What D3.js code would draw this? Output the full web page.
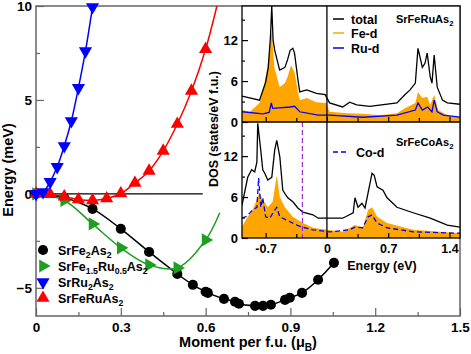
<!DOCTYPE html>
<html>
<head>
<meta charset="utf-8">
<script src="https://cdn.jsdelivr.net/npm/d3@7"></script>
<style>
  body { margin: 0; background: #fff; }
  svg { display: block; font-family: 'Liberation Sans', Arial, sans-serif; font-weight: bold; }
</style>
</head>
<body>
<div id="chart"></div>
<script>
// ---- main panel: energy (meV) vs moment per f.u.
const fe2Moment = [0, 0.1, 0.2, 0.3, 0.4, 0.5, 0.555, 0.6, 0.608, 0.665, 0.704, 0.718, 0.775, 0.803, 0.831, 0.881, 0.898, 0.941, 0.998, 1.054]
const fe2Energy = [0, -0.21, -0.8, -1.86, -3.09, -4.26, -4.84, -5.21, -5.27, -5.59, -5.74, -5.85, -5.96, -5.96, -5.9, -5.64, -5.53, -5.27, -4.57, -3.67]

const fe15Moment = [0, 0.1, 0.2, 0.3, 0.4, 0.5, 0.6]
const fe15Energy = [0, -0.35, -1.6, -2.87, -3.78, -3.94, -2.45]
const fe15Tail = [[0.65, -1.0]]

const ru2Moment = [0, 0.025, 0.05, 0.075, 0.1, 0.125, 0.15, 0.175, 0.2]
const ru2Energy = [0, 0.1, 0.64, 1.44, 2.55, 3.88, 5.64, 7.6, 9.95]

const feRuMoment = [0, 0.05, 0.1, 0.15, 0.2, 0.25, 0.3, 0.35, 0.4, 0.45, 0.5, 0.55, 0.6]
const feRuEnergy = [0, -0.02, -0.15, -0.3, -0.35, -0.25, 0.02, 0.58, 1.22, 2.29, 3.72, 5.48, 7.7]
const feRuTail = [[0.64, 10]]

const momentTicks = [0, 0.3, 0.6, 0.9, 1.2, 1.5]
const momentTickLabels = ['0', '0.3', '0.6', '0.9', '1.2', '1.5']
const momentMinor = [0.15, 0.45, 0.75, 1.05, 1.35]
const energyTicks = [-5, 0, 5, 10]
const energyMinor = [-2.5, 2.5, 7.5]

// ---- inset: DOS (states/eV f.u.) vs energy (eV)
const feRuTotal = [[-0.97, 3.8], [-0.77, 3.2], [-0.73, 4.7], [-0.7, 5.8], [-0.67, 8.0], [-0.645, 12.5], [-0.63, 17], [-0.615, 12], [-0.596, 10.5], [-0.54, 7.6], [-0.48, 8.0], [-0.45, 9.1], [-0.42, 10.5], [-0.39, 10.8], [-0.37, 10.1], [-0.33, 6.1], [-0.31, 4.4], [-0.23, 4.7], [-0.12, 4.2], [-0.02, 4.0], [0.03, 2.8], [0.18, 2.2], [0.26, 2.9], [0.34, 2.5], [0.49, 2.3], [0.8, 2.8], [0.89, 4.0], [0.95, 4.7], [1.01, 5.7], [1.04, 10.8], [1.09, 8.0], [1.12, 8.6], [1.145, 10.1], [1.18, 6.6], [1.2, 5.7], [1.225, 9.8], [1.26, 5.1], [1.32, 3.2], [1.375, 2.8], [1.52, 2.6]]
const feRuFeD = [[-0.97, 1.75], [-0.88, 1.5], [-0.77, 2.8], [-0.73, 4.7], [-0.68, 8.0], [-0.645, 12], [-0.63, 13.2], [-0.6, 8.0], [-0.54, 5.1], [-0.48, 5.7], [-0.45, 6.6], [-0.41, 8.3], [-0.37, 7.3], [-0.33, 4.4], [-0.31, 3.2], [-0.23, 3.5], [-0.12, 2.9], [-0.01, 2.8], [0.03, 1.5], [0.23, 1.3], [0.41, 1.2], [0.61, 1.0], [0.8, 1.3], [0.89, 2.0], [1.01, 2.8], [1.04, 4.4], [1.09, 3.5], [1.145, 3.7], [1.18, 2.5], [1.225, 4.0], [1.27, 1.75], [1.375, 1.0], [1.52, 0.7]]
const feRuRuD = [[-0.97, 1.5], [-0.73, 1.2], [-0.66, 1.4], [-0.635, 2.8], [-0.62, 2.0], [-0.42, 2.2], [-0.37, 2.3], [-0.31, 1.5], [-0.1, 1.0], [0.03, 1.0], [0.41, 0.7], [0.8, 1.0], [1.01, 1.75], [1.04, 2.8], [1.09, 1.75], [1.15, 2.2], [1.2, 1.5], [1.225, 3.2], [1.26, 1.5], [1.33, 1.0], [1.52, 0.7]]

const feCoTotal = [[-0.97, 4.8], [-0.905, 8.9], [-0.86, 10.0], [-0.825, 9.7], [-0.8, 11.1], [-0.79, 16.8], [-0.756, 12.9], [-0.733, 10.0], [-0.71, 9.5], [-0.676, 8.5], [-0.63, 8.9], [-0.596, 12.9], [-0.573, 14.3], [-0.538, 11.9], [-0.504, 7.0], [-0.447, 5.9], [-0.389, 5.3], [-0.332, 4.4], [-0.275, 3.8], [-0.16, 3.4], [-0.1, 2.9], [0.18, 2.9], [0.3, 3.7], [0.32, 5.9], [0.355, 4.5], [0.4, 5.1], [0.435, 4.4], [0.47, 6.6], [0.515, 9.5], [0.54, 9.2], [0.573, 7.5], [0.64, 7.0], [0.687, 5.9], [0.8, 4.5], [0.985, 3.7], [1.18, 2.9], [1.375, 1.9], [1.52, 1.6]]
const feCoFeD = [[-0.97, 1.6], [-0.905, 3.1], [-0.86, 3.8], [-0.8, 5.6], [-0.77, 6.7], [-0.733, 5.6], [-0.676, 4.5], [-0.62, 5.3], [-0.573, 9.2], [-0.538, 6.0], [-0.48, 4.5], [-0.39, 3.1], [-0.275, 2.2], [-0.16, 1.5], [0, 1.2], [0.18, 0.9], [0.32, 1.9], [0.41, 1.5], [0.47, 4.1], [0.515, 4.5], [0.573, 3.1], [0.687, 2.2], [0.985, 1.2], [1.52, 0.7]]
const feCoCoD = [[-0.97, 2.9], [-0.916, 3.2], [-0.848, 4.1], [-0.8, 4.5], [-0.78, 8.8], [-0.755, 4.5], [-0.733, 5.9], [-0.7, 3.1], [-0.653, 2.9], [-0.596, 4.1], [-0.573, 4.5], [-0.538, 3.1], [-0.458, 2.6], [-0.344, 1.9], [-0.286, 1.6], [-0.16, 1.2], [0.03, 0.9], [0.26, 1.2], [0.32, 1.6], [0.41, 1.5], [0.47, 3.1], [0.515, 3.4], [0.573, 2.2], [0.687, 1.5], [0.985, 0.9], [1.52, 0.7]]
const feCoMarker = -0.28

const dosTicks = [0, 6, 12]
const dosMinor = [3, 9, 15]
const eTicks = [-0.7, 0, 0.7, 1.4]
const eTickLabels = ['-0.7', '0', '0.7', '1.4']
const eMinor = [-0.35, 0.35, 1.05]

const width = 471
const height = 354
const frameColor = '#666'

const svg = d3.select('#chart')
  .append('svg')
  .attr('width', width)
  .attr('height', height)
  .attr('viewBox', `0 0 ${width} ${height}`)

// writes 'SrFe_{2}As_{2}' as text with subscripts
function richText(sel, str, size) {
  const parts = str.split(/(_\{[^}]*\})/).filter((s) => s)
  let down = false
  parts.forEach((p) => {
    if (p.startsWith('_{')) {
      sel.append('tspan').attr('dy', size * 0.3).attr('font-size', size * 0.7).text(p.slice(2, -1))
      down = true
    } else {
      sel.append('tspan').attr('dy', down ? -size * 0.3 : 0).text(p)
      down = false
    }
  })
  return sel
}

const x = d3.scaleLinear().domain([0, 1.5]).range([36, 460])
const y = d3.scaleLinear().domain([-6.5, 10]).range([316, 6])

function styleAxis(g, size) {
  g.select('.domain').remove()
  g.selectAll('line').attr('stroke', frameColor).attr('stroke-width', 1.2)
  g.selectAll('text').attr('fill', '#000').style('font-size', size + 'px')
}

svg.append('g')
  .attr('transform', 'translate(0,316)')
  .call(d3.axisBottom(x).tickValues(momentTicks).tickSize(-8).tickPadding(6)
    .tickFormat((d, i) => momentTickLabels[i]))
  .call(styleAxis, 13.5)
svg.append('g')
  .attr('transform', 'translate(0,316)')
  .call(d3.axisBottom(x).tickValues(momentMinor).tickSize(-4).tickFormat(''))
  .call(styleAxis, 13)
svg.append('g')
  .attr('transform', 'translate(36,0)')
  .call(d3.axisLeft(y).tickValues(energyTicks).tickSize(-8).tickPadding(4))
  .call(styleAxis, 13.5)
svg.append('g')
  .attr('transform', 'translate(36,0)')
  .call(d3.axisLeft(y).tickValues(energyMinor).tickSize(-4).tickFormat(''))
  .call(styleAxis, 13)

svg.append('rect')
  .attr('x', x(0)).attr('y', y(10))
  .attr('width', x(1.5) - x(0)).attr('height', y(-6.5) - y(10))
  .attr('fill', 'none').attr('stroke', frameColor).attr('stroke-width', 1.5)

// zero energy reference
svg.append('line')
  .attr('x1', x(0)).attr('x2', x(0.59))
  .attr('y1', y(0)).attr('y2', y(0))
  .attr('stroke', '#000').attr('stroke-width', 1.2)

svg.append('text')
  .attr('transform', 'translate(13,170) rotate(-90)')
  .attr('text-anchor', 'middle')
  .style('font-size', '14.5px')
  .text('Energy (meV)')

richText(svg.append('text')
  .attr('x', 248).attr('y', 347)
  .attr('text-anchor', 'middle')
  .style('font-size', '14.5px'), 'Moment per f.u. (μ_{B})', 14.5)

const series = [
  { name: 'SrFe_{2}As_{2}', color: '#000', shape: d3.symbolCircle, size: 80, rot: 0, m: fe2Moment, e: fe2Energy, tail: [] },
  { name: 'SrFe_{1.5}Ru_{0.5}As_{2}', color: '#1f9f1f', shape: d3.symbolTriangle, size: 75, rot: 90, m: fe15Moment, e: fe15Energy, tail: fe15Tail },
  { name: 'SrRu_{2}As_{2}', color: '#0000ff', shape: d3.symbolTriangle, size: 75, rot: 180, m: ru2Moment, e: ru2Energy, tail: [] },
  { name: 'SrFeRuAs_{2}', color: '#ff0000', shape: d3.symbolTriangle, size: 75, rot: 0, m: feRuMoment, e: feRuEnergy, tail: feRuTail },
]

const line = d3.line().x((d) => x(d[0])).y((d) => y(d[1])).curve(d3.curveCatmullRom)

const drawOrder = [0, 1, 3, 2]
drawOrder.forEach((k) => {
  const s = series[k]
  const pts = s.m.map((m, i) => [m, s.e[i]])
  svg.append('path')
    .datum(pts.concat(s.tail))
    .attr('d', line)
    .attr('fill', 'none')
    .attr('stroke', s.color)
    .attr('stroke-width', 1.5)
  svg.append('g')
    .selectAll('path')
    .data(pts)
    .enter()
    .append('path')
    .attr('d', d3.symbol().type(s.shape).size(s.size))
    .attr('transform', (d) => `translate(${x(d[0])},${y(d[1])}) rotate(${s.rot})`)
    .attr('fill', s.color)
})

// legend
const legend = svg.append('g').attr('transform', 'translate(43,250)')
series.forEach((s, i) => {
  legend.append('path')
    .attr('d', d3.symbol().type(s.shape).size(s.size))
    .attr('transform', `translate(0,${i * 16}) rotate(${s.rot})`)
    .attr('fill', s.color)
  richText(legend.append('text')
    .attr('x', 15).attr('y', i * 16 + 4.5)
    .style('font-size', '12.5px'), s.name, 12.5)
})

// ---- inset
const ix = d3.scaleLinear().domain([-0.97, 1.52]).range([242, 460])
const iyTop = d3.scaleLinear().domain([0, 17]).range([122, 6])
const iyBot = d3.scaleLinear().domain([0, 17]).range([238, 122])

const inset = svg.append('g')
inset.append('rect')
  .attr('x', 242).attr('y', 6).attr('width', 218).attr('height', 232)
  .attr('fill', '#fff')

const panels = [
  { id: 'clipTop', yScale: iyTop, total: feRuTotal, fe: feRuFeD, other: feRuRuD, dash: null },
  { id: 'clipBot', yScale: iyBot, total: feCoTotal, fe: feCoFeD, other: feCoCoD, dash: '5,3' },
]

panels.forEach((p) => {
  const [y0, y1] = p.yScale.range()
  inset.append('clipPath')
    .attr('id', p.id)
    .append('rect')
    .attr('x', 242).attr('y', y1).attr('width', 218).attr('height', y0 - y1)
  const g = inset.append('g').attr('clip-path', `url(#${p.id})`)
  g.append('path')
    .datum(p.fe)
    .attr('d', d3.area().x((d) => ix(d[0])).y0(p.yScale(0)).y1((d) => p.yScale(d[1])))
    .attr('fill', '#ffa500')
  const dline = d3.line().x((d) => ix(d[0])).y((d) => p.yScale(d[1]))
  g.append('path')
    .datum(p.total)
    .attr('d', dline)
    .attr('fill', 'none').attr('stroke', '#000').attr('stroke-width', 1.3)
  g.append('path')
    .datum(p.other)
    .attr('d', dline)
    .attr('fill', 'none').attr('stroke', '#0000ff').attr('stroke-width', 1.3)
    .attr('stroke-dasharray', p.dash)

  inset.append('g')
    .attr('transform', `translate(0,${y0})`)
    .call(d3.axisBottom(ix).tickValues(eTicks).tickSize(-5).tickFormat(''))
    .call(styleAxis, 12)
  inset.append('g')
    .attr('transform', `translate(0,${y0})`)
    .call(d3.axisBottom(ix).tickValues(eMinor).tickSize(-4).tickFormat(''))
    .call(styleAxis, 12)
  inset.append('g')
    .attr('transform', 'translate(242,0)')
    .call(d3.axisLeft(p.yScale).tickValues(dosTicks).tickSize(-6).tickPadding(4))
    .call(styleAxis, 13)
  inset.append('g')
    .attr('transform', 'translate(242,0)')
    .call(d3.axisLeft(p.yScale).tickValues(dosMinor).tickSize(-3).tickFormat(''))
    .call(styleAxis, 13)
})
inset.selectAll('line').attr('stroke', '#000')

inset.append('g')
  .attr('transform', 'translate(0,238)')
  .call(d3.axisBottom(ix).tickValues(eTicks).tickSize(0).tickPadding(6)
    .tickFormat((d, i) => eTickLabels[i]))
  .call(styleAxis, 12.5)

inset.append('line')
  .attr('x1', ix(feCoMarker)).attr('x2', ix(feCoMarker))
  .attr('y1', iyBot(17)).attr('y2', iyBot(0))
  .attr('stroke', '#9b30d9').attr('stroke-width', 1.2)
  .attr('stroke-dasharray', '5,3')
inset.append('line')
  .attr('x1', ix(0)).attr('x2', ix(0))
  .attr('y1', iyTop(17)).attr('y2', iyBot(0))
  .attr('stroke', '#000').attr('stroke-width', 1.3)
inset.append('line')
  .attr('x1', 242).attr('x2', 460)
  .attr('y1', 122).attr('y2', 122)
  .attr('stroke', '#000').attr('stroke-width', 1.3)
inset.append('rect')
  .attr('x', 242).attr('y', 6).attr('width', 218).attr('height', 232)
  .attr('fill', 'none').attr('stroke', '#000').attr('stroke-width', 1.3)

inset.append('text')
  .attr('transform', 'translate(218,129) rotate(-90)')
  .attr('text-anchor', 'middle')
  .style('font-size', '12.5px')
  .text('DOS (states/eV f.u.)')
inset.append('text')
  .attr('x', 382).attr('y', 270)
  .attr('text-anchor', 'middle')
  .style('font-size', '12.5px')
  .text('Energy (eV)')

// inset legends
const dosKeys = [
  { label: 'total', color: '#000', dash: null, y: 19 },
  { label: 'Fe-d', color: '#ffa500', dash: null, y: 33 },
  { label: 'Ru-d', color: '#0000ff', dash: null, y: 48 },
  { label: 'Co-d', color: '#0000ff', dash: '5,3', y: 152 },
]
dosKeys.forEach((k) => {
  inset.append('line')
    .attr('x1', 333).attr('x2', k.dash ? 348 : 344)
    .attr('y1', k.y).attr('y2', k.y)
    .attr('stroke', k.color).attr('stroke-width', 1.5)
    .attr('stroke-dasharray', k.dash)
  inset.append('text')
    .attr('x', k.dash ? 356 : 351).attr('y', k.y + 4.5)
    .style('font-size', '12.5px')
    .text(k.label)
})
richText(inset.append('text').attr('x', 396).attr('y', 23).style('font-size', '11px'), 'SrFeRuAs_{2}', 11)
richText(inset.append('text').attr('x', 396).attr('y', 146).style('font-size', '11px'), 'SrFeCoAs_{2}', 11)
</script>
</body>
</html>
